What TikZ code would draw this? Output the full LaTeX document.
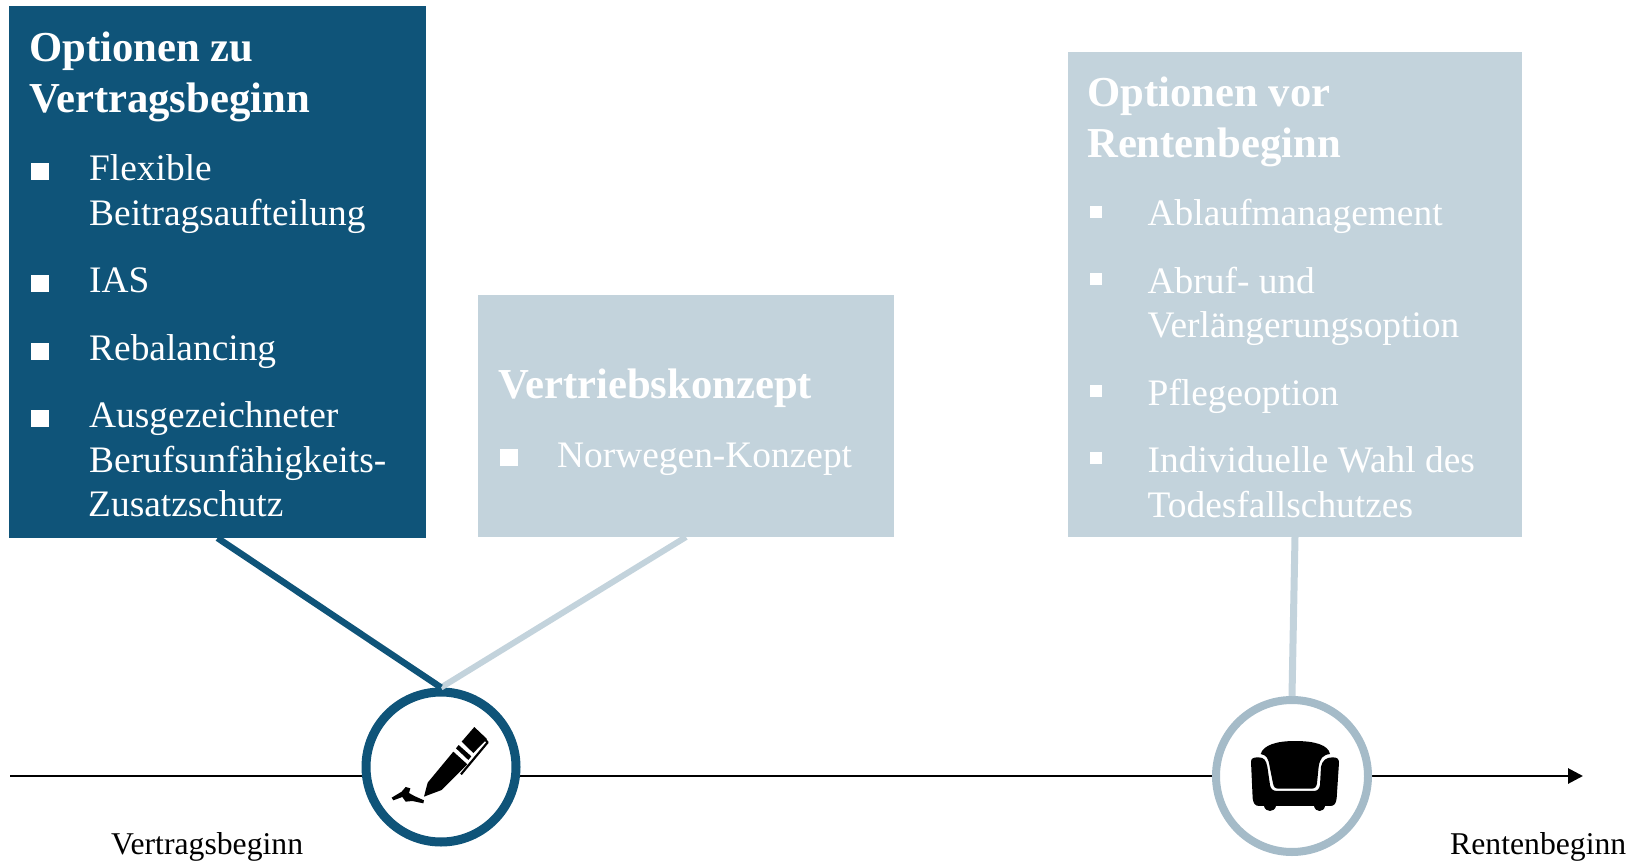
\documentclass[tikz,border=0pt]{standalone}
\usepackage{fontspec}
\setmainfont{Liberation Serif}
\usetikzlibrary{arrows.meta}
\definecolor{dk}{HTML}{0F5479}
\definecolor{lt}{HTML}{C3D3DC}
\definecolor{ring}{HTML}{A5BBC8}
\tikzset{
 x=1pt,y=-1pt,
 ttl/.style={anchor=base west,inner sep=0pt,font=\fontsize{42.7}{48}\selectfont\bfseries,text=white},
 itm/.style={anchor=base west,inner sep=0pt,font=\fontsize{37.4}{44}\selectfont,text=white},
 lab/.style={anchor=base west,inner sep=0pt,font=\fontsize{31.7}{36}\selectfont,text=black},
 rnd/.style={circle,fill=white,inner sep=0pt,minimum size=150pt,line width=9pt},
}
\begin{document}
\begin{tikzpicture}
\useasboundingbox (0,0) rectangle (1642,861);
\path[fill=dk] (9,6) rectangle (426,538);
\path[fill=lt] (478,295) rectangle (894,537);
\path[fill=lt] (1068,52) rectangle (1522,537);
\coordinate (b1) at (217.5,538);
\coordinate (b2) at (686,537);
\coordinate (b3) at (1295,537);
\coordinate (axs) at (10,776);
\coordinate (axe) at (1583,776);
\draw[line width=2.8pt,-{Triangle[length=15pt,width=15pt]}] (axs) -- (axe);
\node[rnd,draw=dk] (c1) at (441,767) {};
\node[rnd,draw=ring,line width=8pt,minimum size=152pt] (c2) at (1292,776) {};
\draw[lt,line width=6pt] (b2) -- (c1.north);
\draw[dk,line width=6.5pt] (b1) -- (c1.north);
\draw[lt,line width=7pt] (b3) -- (c2.north);
\node[ttl] (t1a) at (29,62) {Optionen zu};
\node[ttl] (t1b) at (29,113) {Vertragsbeginn};
\node[itm] (i1a) at (89,181) {Flexible};
\node[itm] (i1b) at (89,226) {Beitragsaufteilung};
\node[itm] (i1c) at (89,292) {IAS};
\node[itm] (i1d) at (89,360) {Rebalancing};
\node[itm] (i1e) at (89,427) {Ausgezeichneter};
\node[itm] (i1f) at (89,472) {Berufsunfähigkeits-};
\node[itm] (i1g) at (88,516) {Zusatzschutz};
\foreach \y in {180,292,360,427}{\fill[white] (31,\y-17) rectangle (49,\y);}
\node[ttl] (t2) at (498,398) {Vertriebskonzept};
\node[itm] (i2) at (557,467) {Norwegen-Konzept};
\fill[white] (500,449) rectangle (518,466);
\node[ttl] (t3a) at (1087,107) {Optionen vor};
\node[ttl] (t3b) at (1087,158) {Rentenbeginn};
\node[itm] (i3a) at (1147.5,226) {Ablaufmanagement};
\node[itm] (i3b) at (1147.5,294) {Abruf- und};
\node[itm] (i3c) at (1147.5,337) {Verlängerungsoption};
\node[itm] (i3d) at (1147.5,405) {Pflegeoption};
\node[itm] (i3e) at (1147.5,472) {Individuelle Wahl des};
\node[itm] (i3f) at (1147.5,517) {Todesfallschutzes};
\foreach \y in {206,273,385,452}{\fill[white] (1090,\y) rectangle (1102,\y+12);}
\node[lab] (l1) at (111,854) {Vertragsbeginn};
\node[lab] (l2) at (1450,854) {Rentenbeginn};
% pen
\begin{scope}[shift={(385,715)},x=0.3333pt,y=-0.3333pt]
\fill[black] (117,245) -- (128,203) -- (205,110) -- (247,148) -- (170,225) -- cycle;
\fill[black] (213,100) -- (221,90) -- (259,124) -- (250,135) -- cycle;
\fill[black] (230,80) -- (268,36) -- (306,72) -- (265,114) -- cycle;
\draw[black,line width=2.2pt,line join=round] (298,72) -- (308,82) -- (228,178);
\fill[black] (20,248) -- (50,230) -- (62,216) -- (76,220) -- (72,234) -- (88,243) -- (117,256) -- (115,265) -- (82,258) -- (62,260) -- (52,246) -- (25,256) -- cycle;
\end{scope}
% armchair
\begin{scope}[shift={(1240,730)},x=0.3333pt,y=-0.3333pt]
\fill[black] (62,72) .. controls (70,45) and (110,33) .. (165,33) .. controls (225,33) and (265,45) .. (270,72) .. controls (248,75) and (240,85) .. (236,110) -- (231,160) .. controls (229,172) and (224,176) .. (214,176) -- (116,176) .. controls (106,176) and (101,172) .. (99,160) -- (89,110) .. controls (85,85) and (80,75) .. (62,72) -- cycle;
\fill[black] (33,95) .. controls (33,85) and (40,82) .. (55,82) .. controls (72,82) and (78,90) .. (82,110) -- (90,165) .. controls (92,178) and (100,183) .. (112,183) -- (220,183) .. controls (232,183) and (238,178) .. (240,165) -- (243,110) .. controls (247,90) and (260,82) .. (278,82) .. controls (292,82) and (297,87) .. (297,98) -- (290,205) .. controls (288,222) and (282,228) .. (270,228) -- (255,228) .. controls (252,248) and (226,248) .. (222,228) -- (108,228) .. controls (104,248) and (76,248) .. (72,228) -- (58,228) .. controls (45,228) and (40,220) .. (38,205) -- cycle;
\end{scope}
\end{tikzpicture}
\end{document}
